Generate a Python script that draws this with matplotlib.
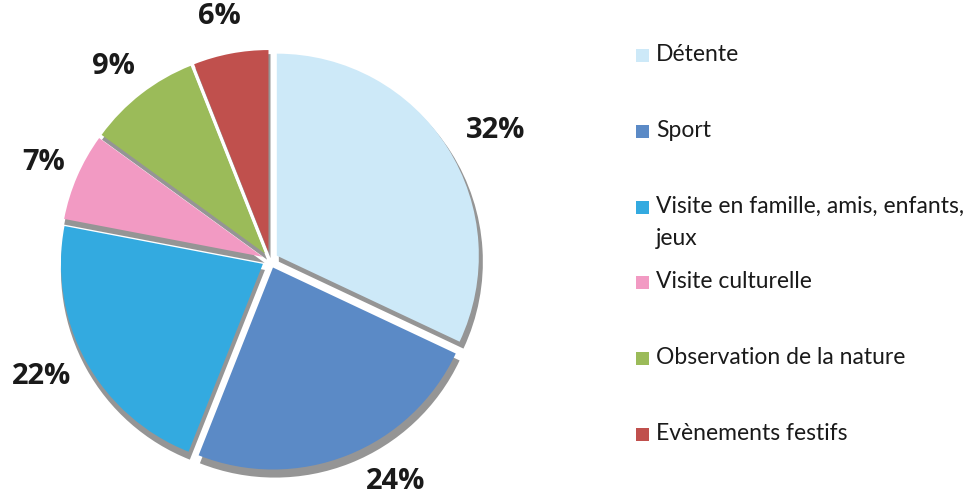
import matplotlib
matplotlib.use("Agg")
import matplotlib.pyplot as plt
import numpy as np
from matplotlib.patches import Rectangle

# Data
categories = [
    "Détente",
    "Sport",
    "Visite en famille, amis, enfants,\njeux",
    "Visite culturelle",
    "Observation de la nature",
    "Evènements festifs",
]
shares = [32, 24, 22, 7, 9, 6]
colors = ["#CDE9F8", "#5B8AC6", "#33AAE0", "#F29AC3", "#9BBB59", "#C0504D"]
# label placement: distance from pie centre (radii) and angle nudge (deg)
label_dist = [1.29, 1.26, 1.27, 1.22, 1.23, 1.23]
label_nudge = [-2.5, 8.0, -1.7, 0.0, 1.2, 1.0]

W, H = 976, 496
CX, CY = 270, 260      # pie centre in pixels (from top-left)
R = 202                # pie radius in pixels

fig = plt.figure(figsize=(W / 100, H / 100), dpi=100)
ax = fig.add_axes([0, 0, 1, 1])

explode = [0.04] * len(shares)

# grey drop shadow under the slices
ax.pie(shares, explode=explode, startangle=90, counterclock=False,
       colors=["#959595"] * len(shares), radius=1.01, center=(0.01, -0.03),
       wedgeprops=dict(linewidth=0))

wedges, texts, autotexts = ax.pie(
    shares, explode=explode, startangle=90, counterclock=False,
    colors=colors, autopct="%d%%",
    wedgeprops=dict(linewidth=0),
    textprops=dict(fontsize=21, fontweight="bold", family=["Open Sans", "DejaVu Sans"],
                   color="#1a1a1a"),
)
for w, t, d, nudge in zip(wedges, autotexts, label_dist, label_nudge):
    ang = np.deg2rad((w.theta1 + w.theta2) / 2 + nudge)
    t.set_position((d * np.cos(ang), d * np.sin(ang)))

# one data unit = R pixels, centre placed at (CX, CY)
ax.set_xlim(-CX / R, (W - CX) / R)
ax.set_ylim(-(H - CY) / R, CY / R)
ax.set_aspect("equal")
ax.axis("off")

# legend laid out like the original (fixed slot spacing)
leg_x, leg_y0, leg_step = 636, 55, 75.8
for i, (label, col) in enumerate(zip(categories, colors)):
    yc = leg_y0 + i * leg_step
    fig.add_artist(Rectangle((leg_x / W, 1 - (yc + 7) / H), 13 / W, 13 / H,
                             transform=fig.transFigure, color=col, lw=0))
    fig.text((leg_x + 20) / W, 1 - (yc - 11) / H, label, va="top", ha="left",
             fontsize=16.5, family=["Lato", "DejaVu Sans"], color="#1a1a1a",
             linespacing=1.7)

fig.savefig("out.png", dpi=100)
